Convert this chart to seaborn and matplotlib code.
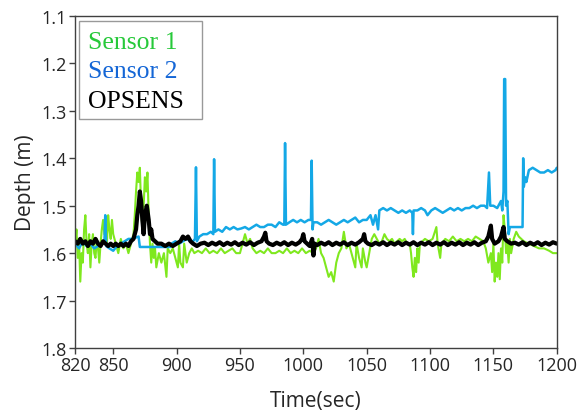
import numpy as np
import pandas as pd
import seaborn as sns
import matplotlib
matplotlib.use("Agg")
import matplotlib.pyplot as plt
from matplotlib.patches import Rectangle

# ---------------- data ----------------
s1_t = [820, 821, 822, 823, 824, 825, 826, 827, 828, 829, 830, 831, 832, 833, 834, 835, 836, 837, 838, 839,
        840, 841, 842, 843, 844, 845, 846, 847, 848, 849, 850, 852, 854, 856, 858, 860, 862, 864, 866, 867,
        868, 869, 870, 871, 872, 873, 874, 875, 876, 877, 878, 879, 880, 881, 882, 883, 884, 886, 888, 890,
        892, 893, 895, 897, 899, 901, 902, 903, 905, 906, 908, 910, 912, 914, 917, 920, 923, 926, 929, 932,
        935, 938, 941, 944, 947, 950, 952, 954, 956, 958, 960, 963, 966, 969, 972, 975, 978, 981, 984, 987,
        990, 993, 996, 999, 1002, 1005, 1008, 1010, 1012, 1014, 1016, 1018, 1020, 1022, 1024, 1026, 1028, 1030, 1032, 1034,
        1036, 1038, 1040, 1041, 1042, 1044, 1046, 1047, 1049, 1050, 1052, 1054, 1056, 1058, 1060, 1062, 1064, 1066, 1068, 1070,
        1072, 1074, 1076, 1078, 1080, 1082, 1084, 1085, 1086, 1087, 1088, 1089, 1090, 1091, 1092, 1094, 1096, 1099, 1102, 1105,
        1106, 1108, 1109, 1112, 1115, 1118, 1121, 1124, 1127, 1130, 1133, 1136, 1139, 1142, 1144, 1146, 1148, 1149, 1150, 1151,
        1152, 1153, 1154, 1155, 1156, 1157, 1158, 1159, 1160, 1161, 1162, 1163, 1164, 1166, 1168, 1170, 1172, 1174, 1178, 1182,
        1186, 1190, 1194, 1197, 1200]
s1_d = [1.58, 1.55, 1.61, 1.57, 1.66, 1.60, 1.62, 1.55, 1.52, 1.58, 1.60, 1.56, 1.63, 1.58, 1.56, 1.60, 1.61, 1.57, 1.59, 1.62,
        1.58, 1.55, 1.53, 1.56, 1.54, 1.58, 1.52, 1.55, 1.57, 1.53, 1.56, 1.58, 1.60, 1.57, 1.59, 1.58, 1.60, 1.58, 1.56, 1.52,
        1.47, 1.43, 1.45, 1.42, 1.50, 1.55, 1.50, 1.44, 1.47, 1.43, 1.52, 1.58, 1.62, 1.58, 1.61, 1.59, 1.63, 1.60, 1.62, 1.60,
        1.65, 1.59, 1.60, 1.59, 1.61, 1.63, 1.58, 1.62, 1.63, 1.58, 1.62, 1.60, 1.59, 1.60, 1.595, 1.60, 1.59, 1.60, 1.595, 1.60,
        1.59, 1.60, 1.595, 1.59, 1.60, 1.60, 1.58, 1.56, 1.58, 1.57, 1.59, 1.60, 1.595, 1.60, 1.59, 1.60, 1.60, 1.595, 1.60, 1.59,
        1.60, 1.595, 1.60, 1.59, 1.60, 1.595, 1.60, 1.59, 1.57, 1.60, 1.61, 1.63, 1.65, 1.64, 1.66, 1.62, 1.60, 1.59, 1.555, 1.59,
        1.58, 1.60, 1.62, 1.63, 1.58, 1.61, 1.63, 1.59, 1.62, 1.63, 1.60, 1.57, 1.56, 1.57, 1.58, 1.575, 1.56, 1.57, 1.575, 1.57,
        1.58, 1.575, 1.57, 1.575, 1.57, 1.58, 1.58, 1.60, 1.63, 1.65, 1.61, 1.64, 1.59, 1.62, 1.58, 1.575, 1.57, 1.575, 1.57, 1.545,
        1.58, 1.61, 1.58, 1.57, 1.575, 1.565, 1.575, 1.57, 1.575, 1.57, 1.575, 1.565, 1.57, 1.575, 1.59, 1.62, 1.60, 1.64, 1.58, 1.66,
        1.62, 1.65, 1.60, 1.655, 1.59, 1.62, 1.52, 1.55, 1.60, 1.58, 1.62, 1.57, 1.60, 1.57, 1.555, 1.565, 1.57, 1.575, 1.58, 1.585,
        1.59, 1.59, 1.595, 1.60, 1.60]

s2_t = [820, 823, 826, 829, 832, 835, 838, 841, 843, 843.7, 844.4, 847, 850, 853, 856, 859, 862, 865, 868, 870,
        871, 880, 890, 895, 896, 899, 902, 905, 908, 911, 913, 914.5, 915.3, 916, 918, 921, 924, 927, 929, 929.6,
        930.3, 933, 936, 939, 942, 945, 948, 951, 954, 957, 960, 963, 966, 969, 972, 975, 978, 981, 984, 985,
        985.6, 986.3, 989, 992, 995, 998, 1001, 1004, 1006, 1006.6, 1007.3, 1008, 1011, 1014, 1017, 1020, 1023, 1026, 1029, 1032,
        1035, 1038, 1041, 1044, 1047, 1050, 1053, 1055, 1057, 1059, 1060, 1063, 1066, 1069, 1072, 1075, 1078, 1081, 1084, 1086,
        1086.5, 1087, 1090, 1093, 1096, 1098, 1101, 1104, 1107, 1110, 1113, 1116, 1119, 1122, 1125, 1128, 1131, 1134, 1137, 1140,
        1143, 1145, 1146.5, 1147.5, 1150, 1153, 1156, 1157, 1158, 1158.5, 1159.3, 1160, 1161, 1162, 1163, 1168, 1172, 1173, 1173.5, 1174,
        1175, 1176, 1178, 1181, 1184, 1187, 1190, 1193, 1196, 1199, 1200]
s2_d = [1.58, 1.59, 1.575, 1.585, 1.58, 1.59, 1.585, 1.58, 1.58, 1.52, 1.585, 1.59, 1.595, 1.585, 1.58, 1.575, 1.57, 1.57, 1.567, 1.565,
        1.587, 1.587, 1.587, 1.587, 1.58, 1.575, 1.58, 1.575, 1.57, 1.575, 1.575, 1.57, 1.419, 1.575, 1.565, 1.56, 1.56, 1.555, 1.56, 1.402,
        1.555, 1.55, 1.555, 1.545, 1.55, 1.545, 1.55, 1.548, 1.545, 1.55, 1.545, 1.54, 1.545, 1.545, 1.54, 1.54, 1.545, 1.535, 1.54, 1.54,
        1.368, 1.54, 1.535, 1.53, 1.535, 1.53, 1.535, 1.53, 1.53, 1.405, 1.55, 1.535, 1.535, 1.54, 1.535, 1.53, 1.535, 1.54, 1.535, 1.53,
        1.535, 1.53, 1.525, 1.535, 1.53, 1.53, 1.52, 1.54, 1.52, 1.55, 1.51, 1.505, 1.51, 1.505, 1.51, 1.515, 1.51, 1.515, 1.51, 1.515,
        1.56, 1.51, 1.51, 1.505, 1.51, 1.52, 1.51, 1.505, 1.51, 1.515, 1.51, 1.505, 1.51, 1.505, 1.51, 1.505, 1.505, 1.50, 1.505, 1.50,
        1.50, 1.505, 1.43, 1.50, 1.50, 1.505, 1.49, 1.51, 1.47, 1.233, 1.233, 1.50, 1.49, 1.56, 1.545, 1.545, 1.545, 1.545, 1.40, 1.46,
        1.44, 1.45, 1.425, 1.42, 1.425, 1.43, 1.43, 1.425, 1.43, 1.425, 1.42]

op_t = [820, 822, 824, 826, 828, 830, 832, 834, 836, 838, 840, 842, 844, 846, 848, 850, 852, 854, 856, 858,
        860, 862, 864, 866, 868, 869, 870, 871, 872, 873, 874, 875, 876.5, 878, 879, 880, 881, 883, 885, 888,
        891, 894, 897, 900, 903, 905, 907, 909, 911, 913, 916, 919, 922, 925, 928, 931, 934, 937, 940, 943,
        946, 949, 952, 955, 958, 961, 964, 967, 969, 970, 971, 973, 976, 979, 982, 985, 988, 991, 994, 997,
        999, 1000, 1001, 1003, 1005, 1007, 1008, 1009, 1011, 1014, 1017, 1020, 1023, 1026, 1029, 1032, 1035, 1038, 1041, 1044,
        1047, 1048, 1049, 1051, 1054, 1057, 1060, 1063, 1066, 1069, 1072, 1075, 1078, 1081, 1084, 1087, 1090, 1093, 1096, 1099,
        1102, 1105, 1108, 1111, 1114, 1117, 1120, 1123, 1126, 1129, 1132, 1135, 1138, 1141, 1144, 1146, 1148, 1149, 1151, 1154,
        1156, 1158, 1159, 1161, 1164, 1167, 1170, 1173, 1176, 1179, 1182, 1185, 1188, 1191, 1194, 1197, 1200]
op_d = [1.575, 1.58, 1.57, 1.58, 1.575, 1.585, 1.575, 1.58, 1.57, 1.58, 1.585, 1.575, 1.58, 1.585, 1.58, 1.585, 1.58, 1.585, 1.58, 1.585,
        1.58, 1.585, 1.575, 1.57, 1.55, 1.52, 1.50, 1.47, 1.49, 1.53, 1.56, 1.52, 1.50, 1.53, 1.56, 1.55, 1.57, 1.575, 1.58, 1.58,
        1.585, 1.58, 1.585, 1.58, 1.575, 1.565, 1.57, 1.565, 1.575, 1.58, 1.585, 1.58, 1.578, 1.583, 1.578, 1.582, 1.577, 1.583, 1.578, 1.582,
        1.577, 1.583, 1.578, 1.582, 1.577, 1.583, 1.578, 1.575, 1.565, 1.557, 1.575, 1.58, 1.583, 1.578, 1.582, 1.577, 1.583, 1.578, 1.582, 1.577,
        1.57, 1.56, 1.575, 1.58, 1.585, 1.57, 1.605, 1.58, 1.583, 1.578, 1.582, 1.577, 1.583, 1.578, 1.582, 1.577, 1.583, 1.578, 1.582, 1.577,
        1.57, 1.56, 1.575, 1.58, 1.583, 1.578, 1.582, 1.577, 1.583, 1.578, 1.582, 1.577, 1.583, 1.578, 1.582, 1.577, 1.583, 1.578, 1.582, 1.577,
        1.583, 1.578, 1.582, 1.577, 1.583, 1.578, 1.582, 1.577, 1.583, 1.578, 1.582, 1.577, 1.583, 1.578, 1.575, 1.565, 1.542, 1.57, 1.58, 1.575,
        1.565, 1.545, 1.57, 1.575, 1.58, 1.578, 1.582, 1.577, 1.583, 1.578, 1.582, 1.577, 1.583, 1.578, 1.582, 1.577, 1.58]

series_names = ["Sensor 1", "Sensor 2", "OPSENS"]
line_colors = ["#7fe81e", "#14a8e6", "#000000"]
text_colors = ["#27c93a", "#1466d6", "#000000"]
x_ticks = [820, 850, 900, 950, 1000, 1050, 1100, 1150, 1200]
y_ticks = [1.1, 1.2, 1.3, 1.4, 1.5, 1.6, 1.7, 1.8]

df = pd.concat([
    pd.DataFrame({"t": s1_t, "d": s1_d, "s": series_names[0]}),
    pd.DataFrame({"t": s2_t, "d": s2_d, "s": series_names[1]}),
    pd.DataFrame({"t": op_t, "d": op_d, "s": series_names[2]}),
], ignore_index=True)

# ---------------- plot ----------------
sns.set_theme(style="white")
plt.rcParams["font.family"] = ["Open Sans", "DejaVu Sans"]

fig = plt.figure(figsize=(5.83, 4.14), dpi=100)
ax = fig.add_axes([0.129, 0.157, 0.826, 0.802])

widths = {"Sensor 1": 1.5, "Sensor 2": 1.8, "OPSENS": 3.0}
for name, col in zip(series_names, line_colors):
    sub = df[df["s"] == name]
    sns.lineplot(data=sub, x="t", y="d", ax=ax, color=col, lw=widths[name],
                 estimator=None, sort=False, label=name)

ax.set_xlim(820, 1200)
ax.set_ylim(1.8, 1.1)
ax.set_xticks(x_ticks)
ax.set_xticklabels([str(v) for v in x_ticks])
ax.set_yticks(y_ticks)
ax.set_yticklabels([f"{v:.1f}" for v in y_ticks])
ax.tick_params(axis="both", which="major", labelsize=13, length=4, width=1,
               color="#404040", direction="out", bottom=True, left=True, pad=2)
ax.set_xlabel("Time(sec)", fontsize=15, labelpad=11)
ax.set_ylabel("Depth (m)", fontsize=15, labelpad=4)
for sp in ax.spines.values():
    sp.set_color("#404040")
    sp.set_linewidth(1.0)

# legend box (drawn separately so its size matches the reference)
box = Rectangle((0.0083, 0.690), 0.255, 0.295, transform=ax.transAxes,
                facecolor="white", edgecolor="#999999", lw=1.0, zorder=4)
ax.add_patch(box)

handles, labels = ax.get_legend_handles_labels()
leg = ax.legend(handles, labels, loc="upper left", bbox_to_anchor=(0.027, 0.958),
                handlelength=0, handletextpad=0,
                prop={"family": "Liberation Serif", "size": 18.5}, frameon=False,
                borderpad=0, labelspacing=0.25, borderaxespad=0)
leg.set_zorder(5)
for h in leg.legend_handles:
    h.set_visible(False)
for txt, c in zip(leg.get_texts(), text_colors):
    txt.set_color(c)

fig.savefig("out.png", dpi=100)
